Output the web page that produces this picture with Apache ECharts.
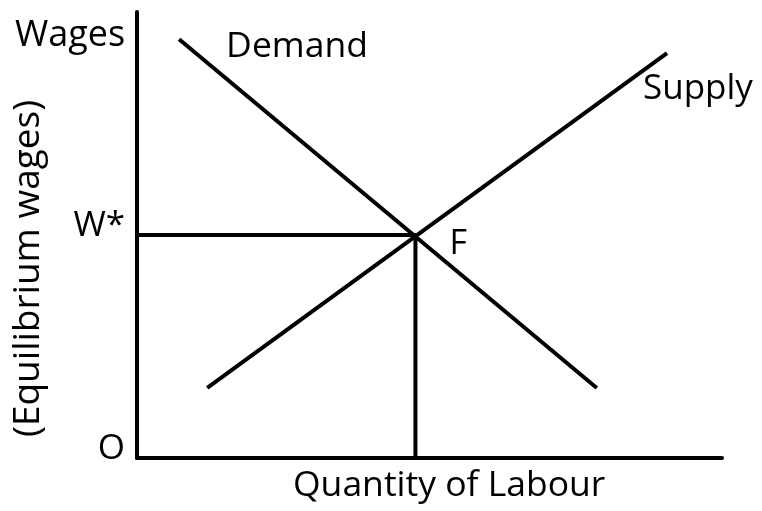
<!DOCTYPE html>
<html>
<head>
<meta charset="utf-8">
<script src="https://cdn.jsdelivr.net/npm/echarts@6/dist/echarts.min.js"></script>
<style>
  html, body { margin: 0; padding: 0; background: #fff; }
  #chart { width: 762px; height: 511px; }
</style>
</head>
<body>
<div id="chart"></div>
<script>
// curve end points (arbitrary units, 0..10 on both axes)
const demandX = [0.72, 7.86]
const demandY = [9.39, 1.57]
const supplyX = [1.20, 9.06]
const supplyY = [1.57, 9.08]
// equilibrium point F
const eqX = 4.76
const eqY = 5.0
const yTickValues = [0, eqY]
const yTickLabels = ['O', 'W*']

const font = 'Open Sans'
const black = '#000'

let chart = echarts.init(document.getElementById('chart'))

function pairs (xs, ys) {
  return xs.map((x, i) => [x, ys[i]])
}

chart.setOption({
  animation: false,
  grid: {
    left: 137,
    right: 40,
    top: 12,
    bottom: 53
  },
  xAxis: {
    type: 'value',
    min: 0,
    max: 10,
    axisLine: { show: true, lineStyle: { color: black, width: 4 } },
    axisTick: { show: false },
    axisLabel: { show: false },
    splitLine: { show: false }
  },
  yAxis: {
    type: 'value',
    min: 0,
    max: 10,
    axisLine: { show: true, lineStyle: { color: black, width: 4 } },
    axisTick: { show: false },
    splitLine: { show: false },
    axisLabel: {
      customValues: yTickValues,
      formatter: (v) => yTickLabels[yTickValues.indexOf(v)],
      color: black,
      fontFamily: font,
      fontSize: 35,
      margin: 12,
      verticalAlign: 'bottom',
      lineHeight: 18
    }
  },
  graphic: [
    {
      type: 'text',
      left: 15,
      top: 18,
      style: { text: 'Wages', fontFamily: font, fontSize: 36, fill: black }
    },
    {
      type: 'text',
      x: 10,
      y: 437,
      rotation: Math.PI / 2,
      style: { text: '(Equilibrium wages)', fontFamily: font, fontSize: 37, fill: black }
    },
    {
      type: 'text',
      left: 293,
      top: 468,
      style: { text: 'Quantity of Labour', fontFamily: font, fontSize: 35.5, fill: black }
    }
  ],
  series: [
    {
      name: 'Demand',
      type: 'line',
      symbolSize: 0,
      lineStyle: { color: black, width: 4 },
      data: pairs(demandX, demandY).map((p, i) => ({
        value: p,
        label: i === 0 ? {
          show: true,
          position: 'right',
          offset: [42, 8],
          formatter: 'Demand',
          color: black,
          fontFamily: font,
          fontSize: 35.5
        } : { show: false }
      }))
    },
    {
      name: 'Supply',
      type: 'line',
      symbolSize: 0,
      lineStyle: { color: black, width: 4 },
      data: pairs(supplyX, supplyY).map((p, i) => ({
        value: p,
        label: i === 1 ? {
          show: true,
          position: 'right',
          offset: [-29, 36],
          formatter: 'Supply',
          color: black,
          fontFamily: font,
          fontSize: 35
        } : { show: false }
      }))
    },
    {
      name: 'Equilibrium',
      type: 'line',
      symbolSize: 0,
      lineStyle: { color: black, width: 4 },
      data: [
        { value: [0, eqY] },
        {
          value: [eqX, eqY],
          label: {
            show: true,
            position: 'right',
            offset: [29, 9],
            formatter: 'F',
            color: black,
            fontFamily: font,
            fontSize: 34
          }
        },
        { value: [eqX, 0] }
      ]
    }
  ]
})
</script>
</body>
</html>
